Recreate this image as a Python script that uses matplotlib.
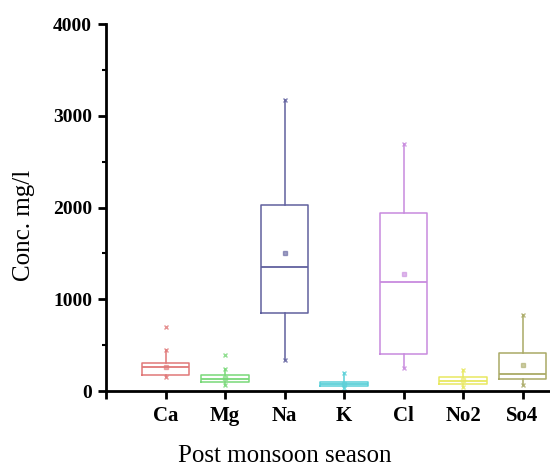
import matplotlib
matplotlib.use("Agg")
import matplotlib.pyplot as plt
from matplotlib.ticker import MultipleLocator

# ---------------------------------------------------------------
# Box statistics (mg/l)
# ---------------------------------------------------------------
ions    = ["Ca", "Mg", "Na", "K", "Cl", "No2", "So4"]
q1      = [174, 95, 846, 58, 405, 73, 127]
median  = [258, 134, 1349, 80, 1185, 112, 185]
q3      = [308, 174, 2024, 101, 1943, 156, 411]
wlo     = [149, 62, 335, 35, 250, 40, 65]
whi     = [447, 236, 3172, 200, 2691, 229, 828]
means   = [265, 140, 1506, 78, 1276, 115, 283]
extra   = [[701], [392], [], [], [], [], []]

colors = ["#e07878", "#78d878", "#60609e", "#5ad0d8",
          "#c88ade", "#e8e860", "#aaaa66"]

plt.rcParams["font.family"] = ["Liberation Serif", "DejaVu Serif"]

fig = plt.figure(figsize=(5.5, 4.7), dpi=100)
ax = fig.add_axes([106 / 550, 79 / 470, 476 / 550, 367 / 470])

positions = list(range(1, len(ions) + 1))

# one bxp call per box so each gets its own colour
for i in range(len(ions)):
    c = colors[i]
    st = dict(q1=q1[i], med=median[i], q3=q3[i], whislo=wlo[i],
              whishi=whi[i], mean=means[i], fliers=[])
    ax.bxp([st], positions=[positions[i]], widths=0.8, showcaps=False,
           showmeans=True, showfliers=False,
           boxprops=dict(color=c, linewidth=1.1),
           whiskerprops=dict(color=c, linewidth=1.1),
           medianprops=dict(color=c, linewidth=1.3),
           meanprops=dict(marker="s", markersize=3, markerfacecolor=c,
                          markeredgecolor=c, alpha=0.6))
    # whisker end markers and extra points
    ends = [wlo[i], whi[i]] + extra[i]
    ax.plot([positions[i]] * len(ends), ends, linestyle="none", marker="x",
            markersize=3, color=c, markeredgewidth=1, alpha=0.8)

ax.set_xlim(0, 8)
ax.set_ylim(0, 4000)
ax.set_xticks([0] + positions)
ax.set_xticklabels([""] + ions, fontweight="bold", fontsize=15)
ax.yaxis.set_major_locator(MultipleLocator(1000))
ax.yaxis.set_minor_locator(MultipleLocator(500))
for lab in ax.get_yticklabels():
    lab.set_fontweight("bold")
    lab.set_fontsize(14)

for side in ["top", "right"]:
    ax.spines[side].set_visible(False)
for side in ["left", "bottom"]:
    ax.spines[side].set_linewidth(2)
ax.tick_params(axis="both", which="major", direction="out", length=6, width=2)
ax.tick_params(axis="y", which="minor", direction="out", length=3, width=1.5)
ax.tick_params(axis="x", pad=5)
ax.tick_params(axis="y", pad=4)

fig.text(0.044, 0.521, "Conc. mg/l", rotation=90, fontsize=18,
         ha="center", va="center")
fig.text(285 / 550, 0.018, "Post monsoon season", fontsize=18,
         ha="center", va="baseline")

fig.savefig("out.png", dpi=100)
